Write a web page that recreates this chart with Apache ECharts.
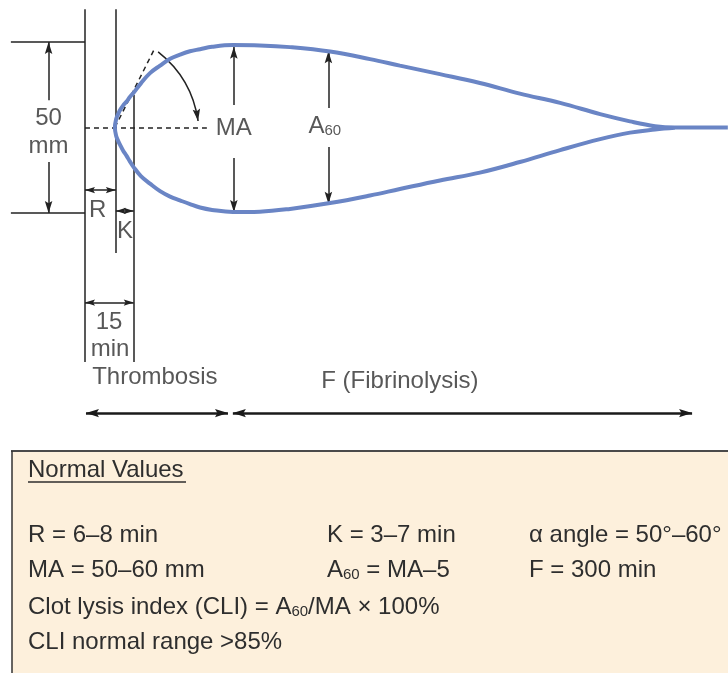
<!DOCTYPE html>
<html>
<head>
<meta charset="UTF-8">
<title>Thromboelastogram</title>
<script src="https://cdn.jsdelivr.net/npm/echarts@6/dist/echarts.min.js"></script>
<style>
  html, body { margin: 0; padding: 0; background: #fff; }
  #main { width: 728px; height: 673px; }
</style>
</head>
<body>
<div id="main"></div>
<script>
// TEG trace: time in min from start, amplitude in mm (0 = baseline)
var traceTime = [9.2, 9.6, 10.2, 10.8, 11.7, 12.8, 13.8, 14.9, 17.2, 20, 23.1, 26.2, 29.2, 32.3, 35.4, 39.1,
                 45.5, 53.8, 63.1, 75.4, 87.7, 96.9, 109.2, 121.5, 133.8, 146.2, 158.5, 167.7, 175.4, 181.5, 189.2, 197.8];
var upperAmp  = [0, 2.5, 3.9, 5.1, 6.4, 7.6, 8.9, 10.1, 12.9, 15.9, 18.1, 20.1, 21.3, 22.3, 22.9, 23.6,
                 24.1, 24, 23.5, 22.2, 20, 18.1, 15.6, 13, 9.9, 7.2, 3.9, 1.8, 0.4, 0, 0, 0];
var lowerAmp  = [0, -2.5, -3.9, -5.1, -6.7, -8.3, -9.9, -11.5, -14.2, -16.4, -18.6, -20.2, -21.3, -22.4, -23.4, -24.1,
                 -24.7, -24.6, -23.8, -22.1, -19.9, -18, -15.5, -13.2, -10.1, -6.6, -3.4, -1.5, -0.6, -0.1];

// guide lines (min, mm)
var plainSegs = [
  [[0, 34.6], [0, -68.6]],
  [[9.5, 34.6], [9.5, -36.7]],
  [[15, 9.5], [15, -68.6]],
  [[-22.8, 25], [0, 25]],
  [[-22.8, -25], [0, -25]]
];
var dashedSegs = [
  [[0, 0], [37.5, 0]],
  [[9.2, 0], [21.5, 23.2]]
];
var oneArrowSegs = [
  [[-11.2, 8], [-11.2, 25]],
  [[-11.2, -10.1], [-11.2, -25]],
  [[45.8, 6.6], [45.8, 23.6]],
  [[45.8, -8.9], [45.8, -24.7]],
  [[74.9, 5.7], [74.9, 22.3]],
  [[74.9, -5.7], [74.9, -22.3]]
];
var twoArrowSegs = [
  [[0, -18.3], [9.5, -18.3]],
  [[9.5, -24.4], [15, -24.4]],
  [[0, -51.2], [15, -51.2]]
];
var phaseSegs = [
  [[0.3, -83.5], [44, -83.5]],
  [[45.5, -83.5], [186.8, -83.5]]
];
var angleArc = [[22.5, 22.1], [34.8, 1.9]];

var labels = [
  ['50', -11.2, 2.8],
  ['mm', -11.2, -5.4],
  ['MA', 45.8, -0.3],
  ['A{sub|60}', 73.8, 0.3],
  ['R', 3.9, -24.1],
  ['K', 12.3, -30.3],
  ['15', 7.4, -56.9],
  ['min', 7.7, -64.8],
  ['Thrombosis', 21.5, -73.2],
  ['F (Fibrinolysis)', 96.9, -74.1]
];

var boxTitle = 'Normal Values';
var boxCols = [28, 327, 529];
var boxRowsY = [535, 570, 607, 642];
var boxRows = [
  ['R = 6–8 min', 'K = 3–7 min', 'α angle = 50°–60°'],
  ['MA = 50–60 mm', 'A{sub|60} = MA–5', 'F = 300 min'],
  ['Clot lysis index (CLI) = A{sub|60}/MA × 100%'],
  ['CLI normal range >85%']
];

var FONT = '"Liberation Sans", Arial, Helvetica, sans-serif';
var INK = '#2e2e2e';
var arrowHead = 'path://M0,0 M32,32 M16,16 L21,32 L16,29 L11,32 Z';

// one path: upper branch back to the nose, then the lower branch
var trace = [];
for (var i = traceTime.length - 1; i >= 0; i--) trace.push([traceTime[i], upperAmp[i]]);
for (var j = 1; j < lowerAmp.length; j++) trace.push([traceTime[j], lowerAmp[j]]);

function segData(list) {
  return list.map(function (s) { return { coords: s }; });
}

var graphics = [
  { type: 'rect', shape: { x: 12, y: 451, width: 716, height: 222 }, style: { fill: '#fdf0dc' } },
  { type: 'line', shape: { x1: 11, y1: 451, x2: 728, y2: 451 }, style: { stroke: '#4a4a4a', lineWidth: 2 } },
  { type: 'line', shape: { x1: 12, y1: 451, x2: 12, y2: 673 }, style: { stroke: '#333', lineWidth: 1.5 } },
  { type: 'text', x: 28, y: 470, style: { text: boxTitle, fontSize: 24, fontFamily: FONT, fill: INK, verticalAlign: 'middle' } },
  { type: 'line', shape: { x1: 28, y1: 482, x2: 186, y2: 482 }, style: { stroke: INK, lineWidth: 1.5 } }
];
boxRows.forEach(function (row, r) {
  row.forEach(function (txt, c) {
    graphics.push({
      type: 'text', x: boxCols[c], y: boxRowsY[r],
      style: {
        text: txt, fontSize: 24, fontFamily: FONT, fill: INK, verticalAlign: 'middle',
        rich: { sub: { fontSize: 15, fontFamily: FONT, fill: INK, verticalAlign: 'bottom' } }
      }
    });
  });
});

var myChart = echarts.init(document.getElementById('main'));
var option = {
  backgroundColor: '#fff',
  animation: false,
  grid: { left: 0, right: 0, top: 0, bottom: 0, containLabel: false },
  xAxis: { type: 'value', min: -26.15, max: 197.85, show: false },
  yAxis: { type: 'value', min: -159.503, max: 37.281, show: false },
  graphic: graphics,
  series: [{
    type: 'line',
    data: trace,
    smooth: 0.4,
    showSymbol: false,
    lineStyle: { color: '#6a85c5', width: 4 },
    z: 3
  }, {
    type: 'lines',
    coordinateSystem: 'cartesian2d',
    data: segData(plainSegs),
    symbol: 'none',
    lineStyle: { color: '#222', width: 1.5, opacity: 1 },
    silent: true
  }, {
    type: 'lines',
    coordinateSystem: 'cartesian2d',
    data: segData(dashedSegs),
    symbol: 'none',
    lineStyle: { color: '#222', width: 1.5, type: [5, 4], opacity: 1 },
    silent: true
  }, {
    type: 'lines',
    coordinateSystem: 'cartesian2d',
    data: segData(oneArrowSegs),
    symbol: ['none', arrowHead],
    symbolSize: 24,
    lineStyle: { color: '#222', width: 1.5, opacity: 1 },
    silent: true
  }, {
    type: 'lines',
    coordinateSystem: 'cartesian2d',
    data: segData(twoArrowSegs),
    symbol: [arrowHead, arrowHead],
    symbolSize: 20,
    lineStyle: { color: '#222', width: 1.5, opacity: 1 },
    silent: true
  }, {
    type: 'lines',
    coordinateSystem: 'cartesian2d',
    data: segData(phaseSegs),
    symbol: [arrowHead, arrowHead],
    symbolSize: 26,
    lineStyle: { color: '#1a1a1a', width: 2.5, opacity: 1 },
    silent: true
  }, {
    type: 'lines',
    coordinateSystem: 'cartesian2d',
    data: [{ coords: angleArc }],
    symbol: ['none', arrowHead],
    symbolSize: 24,
    lineStyle: { color: '#222', width: 1.5, curveness: 0.2, opacity: 1 },
    silent: true
  }, {
    type: 'scatter',
    data: labels.map(function (l) { return [l[1], l[2], l[0]]; }),
    symbolSize: 0,
    silent: true,
    label: {
      show: true,
      position: 'inside',
      formatter: function (p) { return p.data[2]; },
      fontSize: 24,
      fontFamily: FONT,
      color: INK,
      rich: { sub: { fontSize: 15, fontFamily: FONT, color: INK, verticalAlign: 'bottom' } }
    }
  }]
};
myChart.setOption(option);
</script>
</body>
</html>
